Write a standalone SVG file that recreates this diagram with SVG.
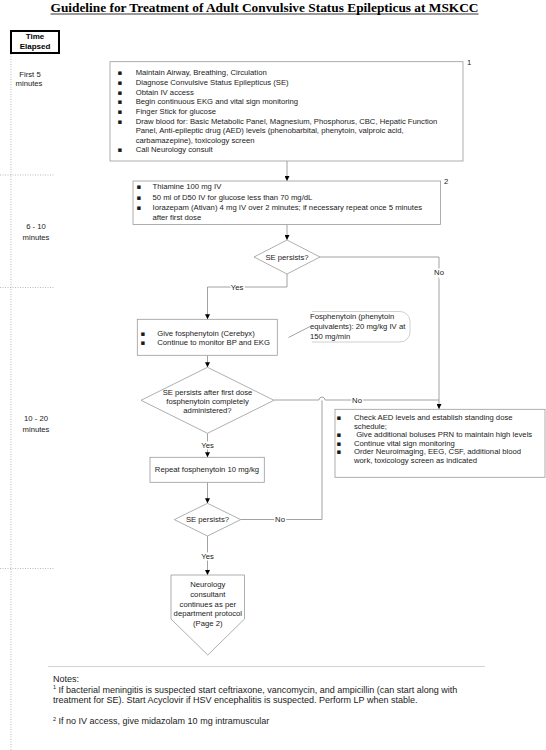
<svg xmlns="http://www.w3.org/2000/svg" width="546" height="750" viewBox="0 0 546 750">
<style>
text{font-family:"Liberation Sans",Arial,sans-serif;font-size:7.7px;fill:#1a1a1a}
.b{font-family:"DejaVu Sans",sans-serif;font-size:7px}
.box{fill:#fff;stroke:#9a9a9a;stroke-width:0.8}
.c{fill:none;stroke:#8a8a8a;stroke-width:0.8}
.dot{fill:none;stroke:#a8a8a8;stroke-width:0.8;stroke-dasharray:1 1.5}
.lbl{paint-order:stroke;stroke:#fff;stroke-width:3px}
.mid{text-anchor:middle}
.note{font-size:9px}
.te{font-weight:bold;font-size:8px;fill:#000}
</style>
<defs>
<marker id="ar" viewBox="0 0 6 6" refX="6" refY="3" markerWidth="5" markerHeight="5" orient="auto" markerUnits="userSpaceOnUse"><path d="M0,0 L6,3 L0,6 z" fill="#000"/></marker>
</defs>
<rect width="546" height="750" fill="#fff"/>
<g id="title">
<text x="50.5" y="11.5" textLength="428" lengthAdjust="spacingAndGlyphs" style="font-family:'Liberation Serif',serif;font-weight:bold;font-size:12.5px;fill:#000">Guideline for Treatment of Adult Convulsive Status Epilepticus at MSKCC</text>
<line x1="50.5" y1="14" x2="478.5" y2="14" stroke="#000" stroke-width="0.8"/>
</g>
<g id="timeline">
<rect x="11" y="31" width="48" height="22" fill="#fff" stroke="#000" stroke-width="2"/>
<text x="35" y="39" class="mid te">Time</text>
<text x="35" y="49.3" class="mid te">Elapsed</text>
<line class="dot" x1="11" y1="54" x2="11" y2="750"/>
<line class="dot" x1="0" y1="175" x2="55" y2="175"/>
<line class="dot" x1="0" y1="287.5" x2="55" y2="287.5"/>
<line class="dot" x1="0" y1="568.5" x2="55" y2="568.5"/>
<text x="30" y="76.5" class="mid">First 5</text>
<text x="29" y="86" class="mid">minutes</text>
<text x="36" y="228.5" class="mid">6 - 10</text>
<text x="36" y="239.5" class="mid">minutes</text>
<text x="36" y="421" class="mid">10 - 20</text>
<text x="36" y="431.5" class="mid">minutes</text>
</g>
<g id="connectors">
<line class="c" x1="287" y1="161" x2="287" y2="181" marker-end="url(#ar)"/>
<line class="c" x1="287" y1="224.5" x2="287" y2="240" marker-end="url(#ar)"/>
<path class="c" d="M320 257 H439 V409" marker-end="url(#ar)"/>
<path class="c" d="M287 274 V287 H207.5 V319.3" marker-end="url(#ar)"/>
<line class="c" x1="288.5" y1="337.5" x2="310" y2="326.5"/>
<line class="c" x1="207.5" y1="355.3" x2="207.5" y2="367.3" marker-end="url(#ar)"/>
<path class="c" d="M274 400 H318.8 Q319.6 397 322 397 Q324.4 397 325.2 400 H439"/>
<path class="c" d="M240.7 519.5 H322 V400.5"/>
<line class="c" x1="207.5" y1="433.3" x2="207.5" y2="457.3" marker-end="url(#ar)"/>
<line class="c" x1="207.5" y1="482.3" x2="207.5" y2="503.3" marker-end="url(#ar)"/>
<line class="c" x1="207.5" y1="536" x2="207.5" y2="575" marker-end="url(#ar)"/>
<text x="439" y="274.5" class="mid lbl">No</text>
<text x="237" y="289.7" class="mid lbl">Yes</text>
<text x="357" y="402.7" class="mid lbl">No</text>
<text x="207.5" y="447.7" class="mid lbl">Yes</text>
<text x="280" y="522.2" class="mid lbl">No</text>
<text x="207.5" y="558.5" class="mid lbl">Yes</text>
</g>
<g id="n1">
<rect class="box" x="110" y="61.7" width="353" height="99.3"/>
<text x="467" y="64.5">1</text>
<text class="b" x="117.5" y="75.4">▪</text><text x="135.7" y="75.4">Maintain Airway, Breathing, Circulation</text>
<text class="b" x="117.5" y="85">▪</text><text x="135.7" y="85">Diagnose Convulsive Status Epilepticus (SE)</text>
<text class="b" x="117.5" y="94.7">▪</text><text x="135.7" y="94.7">Obtain IV access</text>
<text class="b" x="117.5" y="104.3">▪</text><text x="135.7" y="104.3">Begin continuous EKG and vital sign monitoring</text>
<text class="b" x="117.5" y="114">▪</text><text x="135.7" y="114">Finger Stick for glucose</text>
<text class="b" x="117.5" y="123.6">▪</text><text x="135.7" y="123.6">Draw blood for: Basic Metabolic Panel, Magnesium, Phosphorus, CBC, Hepatic Function</text>
<text x="135.7" y="133.2">Panel, Anti-epileptic drug (AED) levels (phenobarbital, phenytoin, valproic acid,</text>
<text x="135.7" y="142.8">carbamazepine), toxicology screen</text>
<text class="b" x="117.5" y="152.4">▪</text><text x="135.7" y="152.4">Call Neurology consult</text>
</g>
<g id="n2">
<rect class="box" x="133" y="181" width="307.5" height="43.5"/>
<text x="444" y="184">2</text>
<text class="b" x="136.5" y="189.2">▪</text><text x="152.5" y="189.2">Thiamine 100 mg IV</text>
<text class="b" x="136.5" y="199.7">▪</text><text x="152.5" y="199.7">50 ml of D50 IV for glucose less than 70 mg/dL</text>
<text class="b" x="136.5" y="210.2">▪</text><text x="152.5" y="210.2">Iorazepam (Ativan) 4 mg IV over 2 minutes; if necessary repeat once 5 minutes</text>
<text x="152.5" y="219.7">after first dose</text>
</g>
<g id="d1">
<polygon class="box" points="287,240 320,257 287,274 254,257"/>
<text x="287" y="259.7" class="mid">SE persists?</text>
</g>
<g id="n3">
<rect class="box" x="137.3" y="319.3" width="140" height="36"/>
<text class="b" x="140.5" y="335.5">▪</text><text x="157.3" y="335.5">Give fosphenytoin (Cerebyx)</text>
<text class="b" x="140.5" y="344.5">▪</text><text x="157.3" y="344.5">Continue to monitor BP and EKG</text>
</g>
<g id="callout">
<path d="M312 311.5 H400 A10 10 0 0 1 410 321.5 V332 A10 10 0 0 1 400 342 H312" fill="none" stroke="#c4c4c4" stroke-width="0.8"/>
<text x="310" y="318.7">Fosphenytoin (phenytoin</text>
<text x="310" y="329.2">equivalents): 20 mg/kg IV at</text>
<text x="310" y="338.7">150 mg/min</text>
</g>
<g id="d2">
<polygon class="box" points="207.5,367.3 274,400.3 207.5,433.3 141,400.3"/>
<text x="207.5" y="394.5" class="mid">SE persists after first dose</text>
<text x="207.5" y="403.5" class="mid">fosphenytoin completely</text>
<text x="207.5" y="412.7" class="mid">administered?</text>
</g>
<g id="n4">
<rect class="box" x="335" y="409.3" width="210" height="68"/>
<text class="b" x="336.5" y="419.7">▪</text><text x="354" y="419.7">Check AED levels and establish standing dose</text>
<text x="354" y="428.5">schedule;</text>
<text class="b" x="336.5" y="437">▪</text><text x="354" y="437" xml:space="preserve"> Give additional boluses PRN to maintain high levels</text>
<text class="b" x="336.5" y="445.8">▪</text><text x="354" y="445.8">Continue vital sign monitoring</text>
<text class="b" x="336.5" y="454.4">▪</text><text x="354" y="454.4">Order Neuroimaging, EEG, CSF, additional blood</text>
<text x="354" y="463">work, toxicology screen as indicated</text>
</g>
<g id="n5">
<rect class="box" x="150" y="457.3" width="114.3" height="25"/>
<text x="207" y="472.2" class="mid">Repeat fosphenytoin 10 mg/kg</text>
</g>
<g id="d3">
<polygon class="box" points="207.5,503.3 240.7,519.6 207.5,536 174.3,519.6"/>
<text x="207.5" y="522.2" class="mid">SE persists?</text>
</g>
<g id="n6">
<polygon class="box" points="171,575 244.5,575 244.5,619 207.8,655 171,619"/>
<text x="207.8" y="587" class="mid">Neurology</text>
<text x="207.8" y="596.8" class="mid">consultant</text>
<text x="207.8" y="606.6" class="mid">continues as per</text>
<text x="207.8" y="616.4" class="mid">department protocol</text>
<text x="207.8" y="626.2" class="mid">(Page 2)</text>
</g>
<g id="notes">
<line x1="48" y1="666.5" x2="485" y2="666.5" stroke="#c8c8c8" stroke-width="0.8"/>
<text class="note" x="53" y="682">Notes:</text>
<text class="note" x="53" y="692.5"><tspan font-size="5.5" dy="-3.5">1</tspan><tspan dy="3.5"> If bacterial meningitis is suspected start ceftriaxone, vancomycin, and ampicillin (can start along with</tspan></text>
<text class="note" x="53" y="703">treatment for SE).  Start Acyclovir if HSV encephalitis is suspected.  Perform LP when stable.</text>
<text class="note" x="53" y="724"><tspan font-size="5.5" dy="-3.5">2</tspan><tspan dy="3.5"> If no IV access, give midazolam 10 mg intramuscular</tspan></text>
</g>
</svg>
